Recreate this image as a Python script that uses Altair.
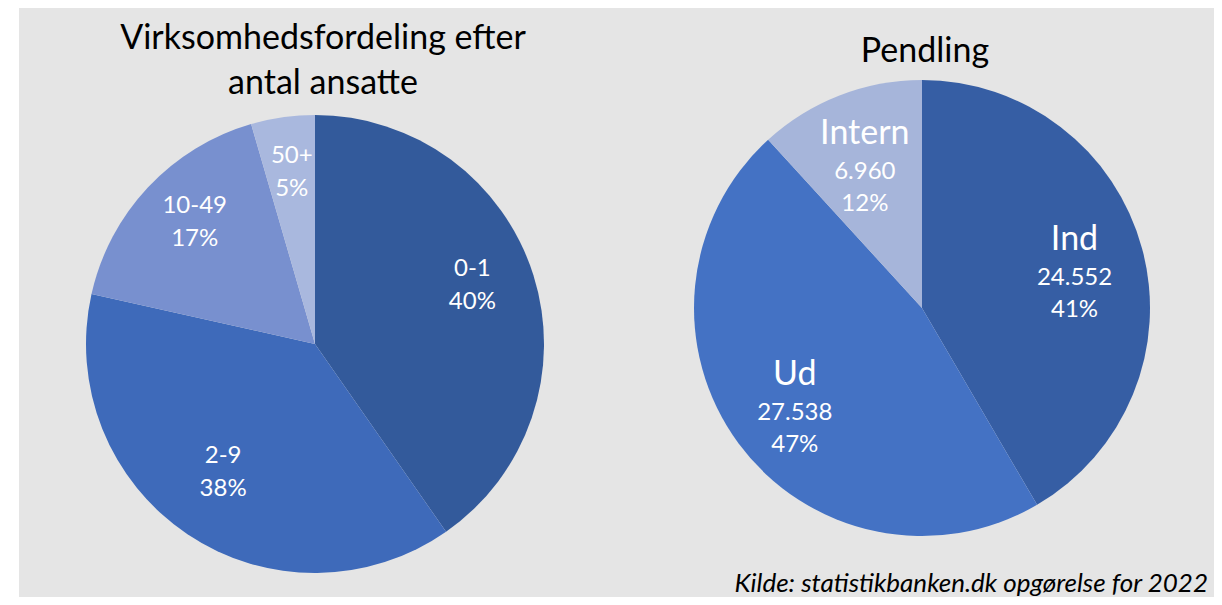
import altair as alt
import pandas as pd

# ---- data ----
left_cats = ["0-1", "2-9", "10-49", "50+"]
left_share = [40.3, 38.2, 17.0, 4.5]
left_pct = ["40%", "38%", "17%", "5%"]
left_colors = ["#335a9b", "#3e6aba", "#7890cf", "#a9b8de"]

right_cats = ["Ind", "Ud", "Intern"]
right_counts = [24552, 27538, 6960]
right_pct = ["41%", "47%", "12%"]
right_colors = ["#365ea4", "#4472c4", "#a6b5da"]

title_left = "Virksomhedsfordeling efter\nantal ansatte"
title_right = "Pendling"
source_text = "Kilde: statistikbanken.dk opgørelse for 2022"

FONT = "Lato"
W, H = 1206, 589
L_CX, L_CY, L_R = 307, 336, 229
R_CX, R_CY, R_R = 914, 300, 228

ldf = pd.DataFrame({"cat": left_cats, "share": left_share, "pct": left_pct,
                    "i": list(range(len(left_cats)))})
rdf = pd.DataFrame({"cat": right_cats, "n": right_counts, "pct": right_pct,
                    "i": list(range(len(right_cats)))})
one = pd.DataFrame({"a": [0]})

bg = alt.Chart(one).mark_rect(color="#e5e5e5").encode(
    x=alt.value(11), x2=alt.value(W), y=alt.value(0), y2=alt.value(H))

l_base = alt.Chart(ldf).encode(
    theta=alt.Theta("share:Q", stack=True),
    order=alt.Order("i:Q"),
    x=alt.value(L_CX), y=alt.value(L_CY))
l_arc = l_base.mark_arc(radius=L_R).encode(
    color=alt.Color("cat:N", scale=alt.Scale(domain=left_cats, range=left_colors), legend=None))
l_txt = l_base.transform_calculate(lab="datum.cat + '\\n' + datum.pct").mark_text(
    radius=165, font=FONT, fontSize=24, color="white", lineBreak="\n", lineHeight=33,
    dy=-25, align="center", baseline="middle").encode(text="lab:N")

r_base = alt.Chart(rdf).encode(
    theta=alt.Theta("n:Q", stack=True),
    order=alt.Order("i:Q"),
    x=alt.value(R_CX), y=alt.value(R_CY))
r_arc = r_base.mark_arc(radius=R_R).encode(
    color=alt.Color("cat:N", scale=alt.Scale(domain=right_cats, range=right_colors), legend=None))
r_name = r_base.mark_text(
    radius=158, font=FONT, fontSize=34, color="white", dy=-27,
    align="center", baseline="middle").encode(text="cat:N")
r_num = r_base.transform_calculate(
    lab="replace(format(datum.n, ','), ',', '.') + '\\n' + datum.pct").mark_text(
    radius=158, font=FONT, fontSize=24, color="white", dy=11, lineBreak="\n", lineHeight=32,
    align="center", baseline="middle").encode(text="lab:N")

t1 = alt.Chart(one).mark_text(
    font=FONT, fontSize=34, color="black", lineBreak="\n", lineHeight=45,
    align="center", baseline="middle").encode(
    x=alt.value(315), y=alt.value(31), text=alt.value(title_left))
t2 = alt.Chart(one).mark_text(
    font=FONT, fontSize=34, color="black", align="center", baseline="middle").encode(
    x=alt.value(917), y=alt.value(44), text=alt.value(title_right))
src = alt.Chart(one).mark_text(
    font=FONT, fontSize=26, fontStyle="italic", color="black", align="right",
    baseline="middle").encode(
    x=alt.value(1200), y=alt.value(576), text=alt.value(source_text))

chart = alt.layer(bg, l_arc, l_txt, r_arc, r_name, r_num, t1, t2, src).resolve_scale(
    theta="independent", color="independent").properties(
    width=W, height=H, autosize=alt.AutoSizeParams(type="none"), padding=0,
    background="white").configure_view(stroke=None)

chart.save("out.html", embed_options={"renderer": "svg", "actions": False})
